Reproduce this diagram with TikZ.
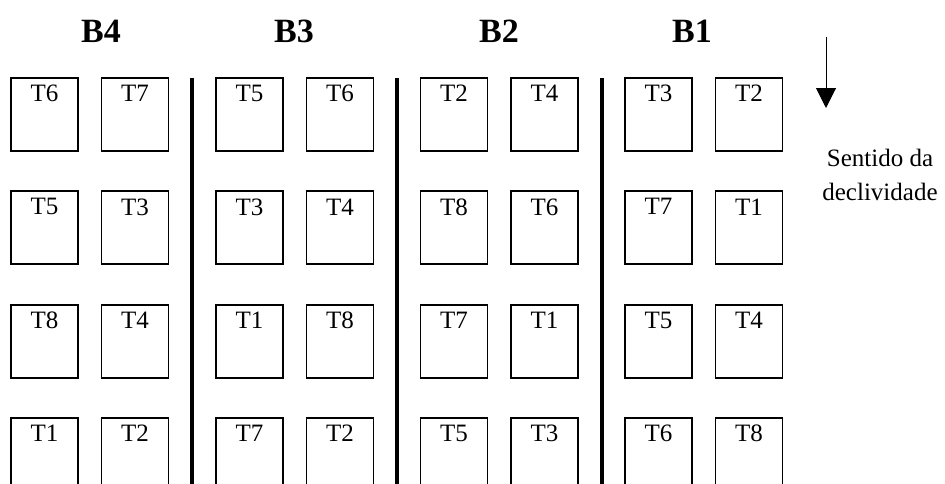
\documentclass[tikz,border=0pt]{standalone}
\usepackage{fontspec}
\setmainfont{Liberation Serif}
\usetikzlibrary{arrows.meta}
\begin{document}
\begin{tikzpicture}[x=1pt,y=-1pt,
  tbox/.style={draw, line width=1.8pt, minimum width=67pt, minimum height=73pt, inner sep=0pt, anchor=center},
  tlab/.style={anchor=north, inner sep=0pt, yshift=-8pt, font=\fontsize{25}{30}\selectfont},
  blab/.style={anchor=base, inner sep=0pt, font=\fontsize{34}{40}\selectfont\bfseries},
  divider/.style={line width=4pt},
  slope/.style={line width=1pt, -{Triangle[width=20pt,length=20pt]}},
  note/.style={anchor=north, inner sep=0pt, align=center, font=\fontsize{25}{34}\selectfont}]
\useasboundingbox (0,0) rectangle (945,483);
\clip (0,0) rectangle (945,483);
% block titles
\node[blab] (B4) at (101,42) {B4};
\node[blab] (B3) at (294,42) {B3};
\node[blab] (B2) at (499,42) {B2};
\node[blab] (B1) at (692,42) {B1};
% plots
\foreach \bx/\bn/\rows in {11/4/{T6/T7,T5/T3,T8/T4,T1/T2},
                           216/3/{T5/T6,T3/T4,T1/T8,T7/T2},
                           420.5/2/{T2/T4,T8/T6,T7/T1,T5/T3},
                           625/1/{T3/T2,T7/T1,T5/T4,T6/T8}} {
  \foreach \p/\q [count=\r from 0] in \rows {
    \node[tbox, label={[tlab]north:\p}] (b\bn r\r a) at ({\bx+33.5},{114.5+113.3*\r}) {};
    \node[tbox, label={[tlab]north:\q}] (b\bn r\r b) at ({\bx+124},{114.5+113.3*\r}) {};
  }
}
% dividers
\coordinate (d1t) at (192,78);   \coordinate (d1b) at (192,490);
\coordinate (d2t) at (397,78);   \coordinate (d2b) at (397,490);
\coordinate (d3t) at (602,78);   \coordinate (d3b) at (602,490);
\draw[divider] (d1t) -- (d1b);
\draw[divider] (d2t) -- (d2b);
\draw[divider] (d3t) -- (d3b);
% slope arrow
\coordinate (as) at (826,37);
\coordinate (ae) at (826,108);
\draw[slope] (as) -- (ae);
\node[note] (sd) at (880,149) {Sentido da\\declividade};
\end{tikzpicture}
\end{document}
